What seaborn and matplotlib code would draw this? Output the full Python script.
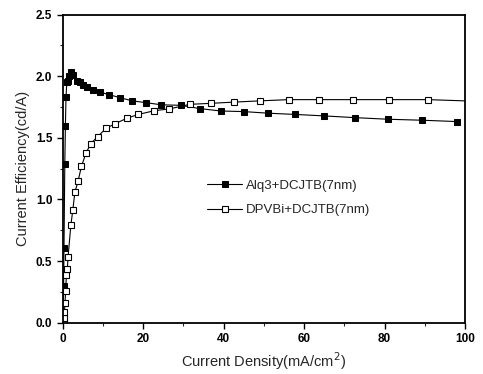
import matplotlib
matplotlib.use("Agg")
import matplotlib.pyplot as plt
import seaborn as sns
import pandas as pd
from matplotlib.ticker import MultipleLocator

sns.set_style("ticks")
plt.rcParams['font.family'] = ['Liberation Sans', 'DejaVu Sans']

alq3_x = [0.1, 0.2, 0.3, 0.5, 0.65, 0.8, 1.0, 1.3, 1.6, 2.0, 2.65, 3.5, 4.3, 5.1, 6.0, 7.5, 9.3, 11.6,
          14.3, 17.3, 20.8, 24.5, 29.3, 34.1, 39.3, 45.0, 51.1, 57.8, 65.0, 72.6, 80.8, 89.3, 98.1]
alq3_y = [0.05, 0.3, 0.61, 1.29, 1.6, 1.83, 1.95, 1.96, 2.0, 2.035, 2.01, 1.96, 1.95, 1.93, 1.91, 1.885, 1.87, 1.85,
          1.825, 1.80, 1.785, 1.768, 1.764, 1.737, 1.718, 1.713, 1.70, 1.69, 1.678, 1.664, 1.651, 1.643, 1.632]

dpvbi_x = [0.3, 0.35, 0.4, 0.55, 0.7, 0.9, 1.15, 1.3, 2.0, 2.5, 3.0, 3.8, 4.65, 5.8, 7.0, 8.65, 10.8, 13.0,
           16.0, 18.8, 22.7, 26.5, 31.6, 36.8, 42.5, 48.9, 56.1, 63.8, 72.2, 81.0, 90.8, 100.0]
dpvbi_y = [0.01, 0.035, 0.085, 0.157, 0.26, 0.385, 0.44, 0.53, 0.79, 0.916, 1.058, 1.15, 1.27, 1.38, 1.454, 1.51,
           1.578, 1.615, 1.66, 1.69, 1.72, 1.735, 1.772, 1.78, 1.79, 1.80, 1.81, 1.81, 1.81, 1.81, 1.81, 1.80]

labels = ["Alq3+DCJTB(7nm)", "DPVBi+DCJTB(7nm)"]

fig = plt.figure(figsize=(4.83, 3.74), dpi=100)
ax = fig.add_axes([0.13, 0.137, 0.833, 0.824])

d1 = pd.DataFrame({"x": alq3_x, "y": alq3_y})
d2 = pd.DataFrame({"x": dpvbi_x, "y": dpvbi_y})
sns.lineplot(data=d1, x="x", y="y", ax=ax, sort=False, color="black", lw=0.8,
             marker="s", markersize=4, markerfacecolor="black", markeredgecolor="black",
             label=labels[0])
sns.lineplot(data=d2, x="x", y="y", ax=ax, sort=False, color="black", lw=0.8,
             marker="s", markersize=4, markerfacecolor="white", markeredgecolor="black",
             markeredgewidth=0.8, markevery=list(range(len(dpvbi_x) - 1)), label=labels[1])

ax.set_xlim(0, 100)
ax.set_ylim(0, 2.5)
ax.xaxis.set_major_locator(MultipleLocator(20))
ax.xaxis.set_minor_locator(MultipleLocator(10))
ax.yaxis.set_major_locator(MultipleLocator(0.5))
ax.yaxis.set_minor_locator(MultipleLocator(0.25))
ax.set_yticklabels([f"{v:.1f}" for v in ax.get_yticks()])
for s in ax.spines.values():
    s.set_linewidth(1.3)
    s.set_color("black")
ax.tick_params(which="major", direction="out", length=4, width=1, labelsize=8.5, colors="black")
ax.tick_params(which="minor", direction="out", length=2, width=0.8)
for t in ax.get_xticklabels() + ax.get_yticklabels():
    t.set_fontweight("bold")

ax.set_xlabel("Current Density(mA/cm$^2$)", fontsize=10.5)
ax.set_ylabel("Current Efficiency(cd/A)", fontsize=10.5)

leg = ax.legend(loc="center left", bbox_to_anchor=(0.33, 0.405), frameon=False,
                fontsize=9.5, handlelength=2.6, labelspacing=0.9, handletextpad=0.3)

fig.savefig("out.png", dpi=100)
